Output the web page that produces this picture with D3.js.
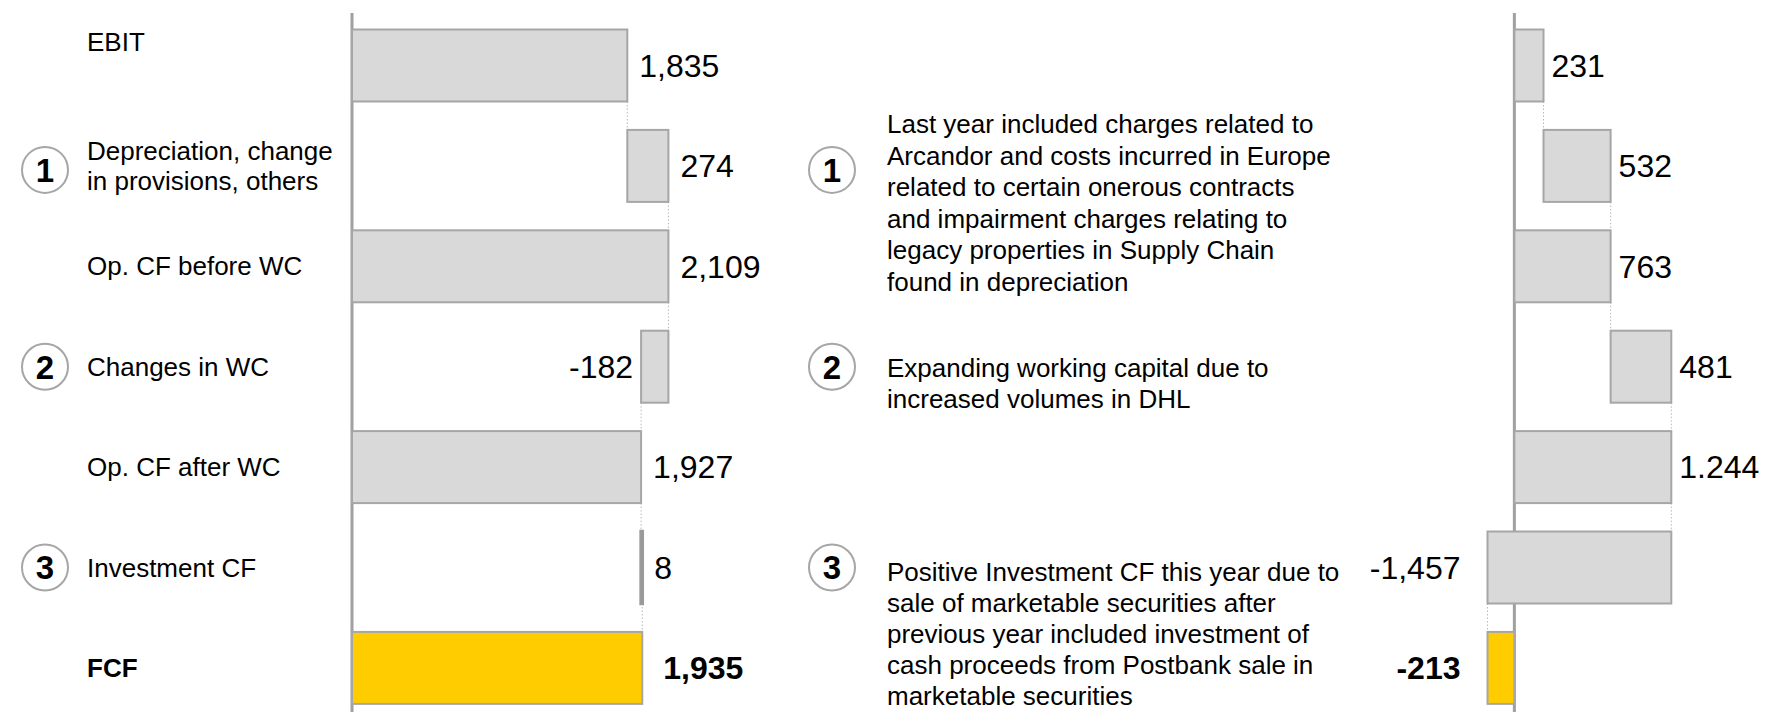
<!DOCTYPE html>
<html>
<head>
<meta charset="utf-8">
<script src="https://cdn.jsdelivr.net/npm/d3@7"></script>
<style>
  body { margin: 0; background: #fff; }
  svg { display: block; }
  text { font-family: "Liberation Sans", Arial, Helvetica, sans-serif; fill: #000; }
</style>
</head>
<body>
<svg id="chart" width="1768" height="712"></svg>
<script>
// Cash flow bridge rows (labels may wrap with "\n")
const categories = [
  "EBIT",
  "Depreciation, change\nin provisions, others",
  "Op. CF before WC",
  "Changes in WC",
  "Op. CF after WC",
  "Investment CF",
  "FCF"
];
// "total" bars start at zero, "delta" bars float from the running total
const rowKinds = ["total", "delta", "total", "delta", "total", "delta", "total"];

// Current year bridge
const currentValues = [1835, 274, 2109, -182, 1927, 8, 1935];
const currentLabels = ["1,835", "274", "2,109", "-182", "1,927", "8", "1,935"];

// Prior year bridge
const priorValues = [231, 532, 763, 481, 1244, -1457, -213];
const priorLabels = ["231", "532", "763", "481", "1.244", "-1,457", "-213"];

// Numbered markers and their explanatory notes
const markerRows = [1, 3, 5];
const markerNumbers = ["1", "2", "3"];
const notes = [
  ["Last year included charges related to",
   "Arcandor and costs incurred in Europe",
   "related to certain onerous contracts",
   "and impairment charges relating to",
   "legacy properties in Supply Chain",
   "found in depreciation"],
  ["Expanding working capital due to",
   "increased volumes in DHL"],
  ["Positive Investment CF this year due to",
   "sale of marketable securities after",
   "previous year included investment of",
   "cash proceeds from Postbank sale in",
   "marketable securities"]
];

// ---- layout ----
const W = 1768, H = 712;
const svg = d3.select("#chart");
svg.append("rect").attr("width", W).attr("height", H).attr("fill", "#fff");

const y = d3.scaleBand()
  .domain(d3.range(categories.length))
  .range([15.3, 718.1])
  .paddingInner(0.283)
  .paddingOuter(0.1415);

const GREY_FILL = "#d9d9d9", GREY_LINE = "#a6a6a6", AXIS = "#a0a0a0", GOLD = "#ffcc00";

const xLeft = d3.scaleLinear().domain([0, 2109]).range([352, 668.4]);
const xRight = d3.scaleLinear().domain([-213, 1244]).range([1487.5, 1671.3]);

function bridge(values) {
  let run = 0;
  return values.map((v, i) => {
    let a, b;
    if (rowKinds[i] === "total") { a = 0; b = v; run = v; }
    else { a = run; b = run + v; run = b; }
    return { i, v, a, b, run, last: i === values.length - 1 };
  });
}

function drawPanel(values, labels, x, gaps) {
  const rows = bridge(values);
  const g = svg.append("g");

  // value axis at zero
  g.append("line")
    .attr("x1", x(0)).attr("x2", x(0))
    .attr("y1", 13).attr("y2", H)
    .attr("stroke", AXIS).attr("stroke-width", 3);

  // dotted connectors between consecutive bars
  g.selectAll("line.conn")
    .data(rows.slice(0, -1))
    .join("line")
    .attr("class", "conn")
    .attr("x1", d => x(d.run)).attr("x2", d => x(d.run))
    .attr("y1", d => y(d.i) + y.bandwidth())
    .attr("y2", d => y(d.i + 1))
    .attr("stroke", "#b8b8b8").attr("stroke-width", 1)
    .attr("stroke-dasharray", "1.5,2");

  // bars (very small deltas get a heavier outline so they stay visible)
  g.selectAll("rect.bar")
    .data(rows)
    .join("rect")
    .attr("class", "bar")
    .attr("x", d => x(Math.min(d.a, d.b)))
    .attr("width", d => Math.abs(x(d.b) - x(d.a)))
    .attr("y", d => y(d.i))
    .attr("height", y.bandwidth())
    .attr("fill", d => d.last ? GOLD : GREY_FILL)
    .attr("stroke", d => Math.abs(x(d.b) - x(d.a)) < 3 ? "#9a9a9a" : GREY_LINE)
    .attr("stroke-width", d => Math.abs(x(d.b) - x(d.a)) < 3 ? 3.5 : 2);

  // value labels
  g.selectAll("text.val")
    .data(rows)
    .join("text")
    .attr("class", "val")
    .attr("x", d => {
      if (d.v < 0) return x(Math.min(d.a, d.b)) - gaps.neg;
      return x(Math.max(d.a, d.b)) + (d.last ? gaps.total : gaps.pos);
    })
    .attr("y", d => y(d.i) + y.bandwidth() / 2)
    .attr("dy", "0.35em")
    .attr("text-anchor", d => d.v < 0 ? "end" : "start")
    .attr("font-size", 32)
    .attr("font-weight", d => d.last ? "bold" : "normal")
    .text((d, i) => labels[i]);
}

drawPanel(currentValues, currentLabels, xLeft, { pos: 12, neg: 8, total: 21 });
drawPanel(priorValues, priorLabels, xRight, { pos: 8, neg: 27, total: 8 });

// category labels
const catNudge = { "EBIT": -24 };
const LH = 30.5;
const cat = svg.append("g").selectAll("text")
  .data(categories)
  .join("text")
  .attr("x", 87)
  .attr("y", (d, i) => y(i) + y.bandwidth() / 2 + (catNudge[d] || 0))
  .attr("font-size", 26)
  .attr("font-weight", (d, i) => i === categories.length - 1 ? "bold" : "normal");
cat.each(function(d) {
  const lines = d.split("\n");
  const t = d3.select(this);
  lines.forEach((ln, k) => {
    t.append("tspan")
      .attr("x", 87)
      .attr("dy", k === 0 ? ((-(lines.length - 1) / 2) * LH / 26 + 0.35) + "em" : LH + "px")
      .text(ln);
  });
});

// numbered markers
const markerNudge = [4, 0, 0];
function marker(cx, cy, label) {
  const m = svg.append("g");
  m.append("circle").attr("cx", cx).attr("cy", cy).attr("r", 23)
    .attr("fill", "#fff").attr("stroke", GREY_LINE).attr("stroke-width", 2);
  m.append("text").attr("x", cx).attr("y", cy).attr("dy", "0.36em")
    .attr("text-anchor", "middle").attr("font-size", 33).attr("font-weight", "bold")
    .text(label);
}
markerRows.forEach((r, k) => {
  const cy = y(r) + y.bandwidth() / 2 + markerNudge[k];
  marker(45, cy, markerNumbers[k]);
  marker(832, cy, markerNumbers[k]);
});

// explanatory notes next to the right-hand markers
const noteLead = [-42, 1, 4];
const noteLineHeight = [31.6, 31, 31];
markerRows.forEach((r, k) => {
  const cy = y(r) + y.bandwidth() / 2 + noteLead[k];
  const t = svg.append("text").attr("font-size", 26);
  notes[k].forEach((ln, j) => {
    t.append("tspan").attr("x", 887).attr("y", cy + j * noteLineHeight[k]).attr("dy", "0.35em").text(ln);
  });
});
</script>
</body>
</html>
